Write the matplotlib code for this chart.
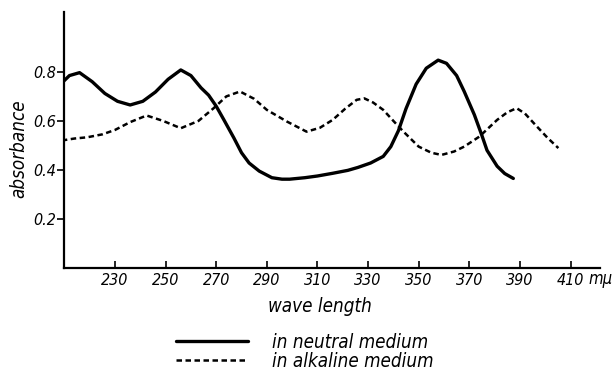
import matplotlib
matplotlib.use("Agg")
import matplotlib.pyplot as plt

# ---- data ----
neutral_x = [209, 212, 216, 221, 226, 231, 236, 241, 246, 251, 256, 260, 264, 267, 270,
             273, 277, 280, 283, 287, 292, 296, 299, 305, 310, 316, 322, 326, 331, 336,
             339, 342, 345, 349, 353, 357.7, 361, 365, 368, 372, 375, 377, 381, 384, 387.4]
neutral_y = [0.755, 0.785, 0.797, 0.760, 0.712, 0.680, 0.665, 0.680, 0.718, 0.770, 0.808,
             0.785, 0.735, 0.705, 0.660, 0.605, 0.530, 0.470, 0.428, 0.395, 0.368, 0.362,
             0.362, 0.368, 0.375, 0.386, 0.398, 0.410, 0.428, 0.455, 0.495, 0.560, 0.650,
             0.750, 0.815, 0.848, 0.835, 0.785, 0.720, 0.625, 0.540, 0.480, 0.415, 0.385, 0.365]

alkaline_x = [209, 214, 219, 225, 230, 236, 242.5, 249, 256, 263, 269, 274, 279.4, 285, 290,
              298, 305.7, 311, 316, 321, 325.5, 328.5, 332, 336, 340, 344, 350, 355, 359, 364,
              368, 374, 381, 385, 388.7, 392, 396, 401, 405.2]
alkaline_y = [0.520, 0.528, 0.533, 0.545, 0.563, 0.595, 0.622, 0.600, 0.570, 0.600, 0.652,
              0.700, 0.720, 0.690, 0.645, 0.597, 0.556, 0.572, 0.604, 0.650, 0.686, 0.692,
              0.675, 0.645, 0.600, 0.556, 0.495, 0.470, 0.461, 0.475, 0.495, 0.536, 0.604,
              0.635, 0.652, 0.630, 0.585, 0.530, 0.489]

xticks = [230, 250, 270, 290, 310, 330, 350, 370, 390, 410]
yticks = [0.2, 0.4, 0.6, 0.8]
ytick_labels = ["0.2", "0.4", "0.6", "0.8"]

plt.rcParams["font.family"] = ["DejaVu Sans"]
plt.rcParams["font.stretch"] = "condensed"
plt.rcParams["font.style"] = "oblique"
fs = 11.5

fig = plt.figure(figsize=(6.13, 3.72), dpi=100)
ax = fig.add_axes([0.105, 0.28, 0.874, 0.688])

ax.plot(neutral_x, neutral_y, color="black", lw=2.4, solid_capstyle="round",
        label="in neutral medium")
ax.plot(alkaline_x, alkaline_y, color="black", lw=1.8, linestyle=(0, (2.2, 1.4)),
        label="in alkaline medium")

ax.set_xlim(210, 421.7)
ax.set_ylim(0, 1.045)
for s in ("top", "right"):
    ax.spines[s].set_visible(False)
for s in ("left", "bottom"):
    ax.spines[s].set_linewidth(1.6)

ax.set_xticks(xticks)
ax.set_xticklabels([str(t) for t in xticks], fontsize=fs)
ax.set_yticks(yticks)
ax.set_yticklabels(ytick_labels, fontsize=fs)
ax.tick_params(axis="x", direction="in", length=5, width=1.2, pad=4)
ax.tick_params(axis="y", direction="out", length=5, width=1.2, pad=1)

fig.text(588 / 613, 1 - 279 / 372, "m\u03bc", fontsize=fs + 0.5, ha="left", va="center")

fig.text(0.522, 0.175, "wave length", fontsize=13.5, ha="center", va="center")
fig.text(0.03, 0.6, "absorbance", fontsize=13.5, rotation=90, ha="center", va="center")

leg = fig.legend(loc="center", bbox_to_anchor=(0.497, 0.055), frameon=False,
                 prop={"size": 13.5}, handlelength=3.85,
                 handletextpad=1.3, labelspacing=0.0, borderpad=0)

fig.savefig("out.png", dpi=100)
